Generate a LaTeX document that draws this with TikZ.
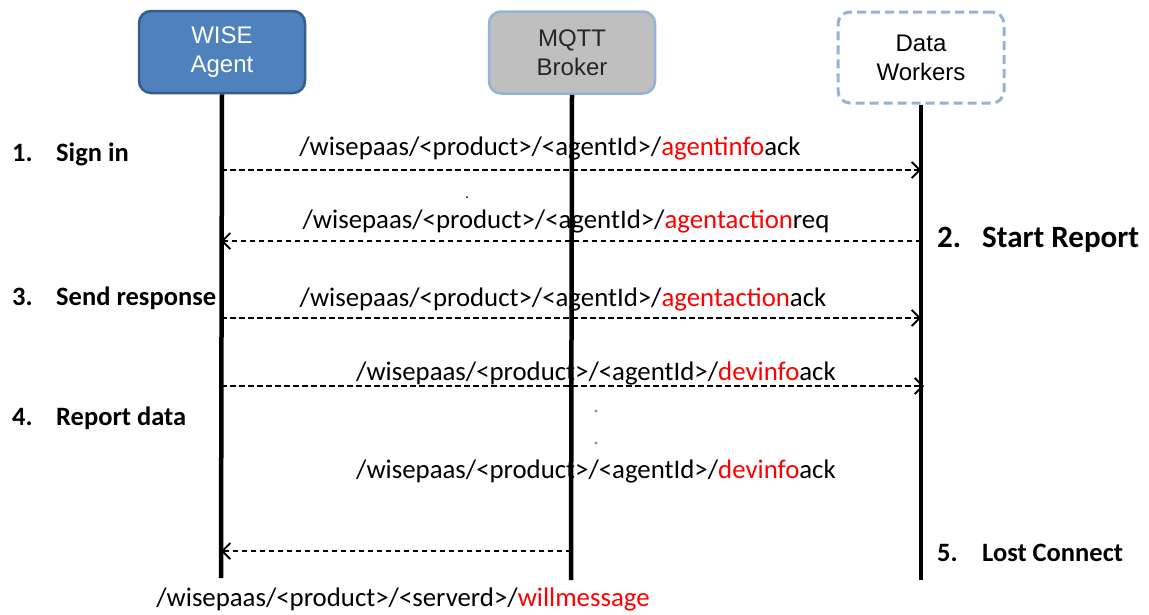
\documentclass[tikz,border=0pt]{standalone}
\usepackage{fontspec}
\setmainfont{Carlito}
\newfontfamily\boxfont{Liberation Sans}
\usetikzlibrary{arrows.meta}
\definecolor{agentfill}{HTML}{4F81BD}
\definecolor{agentline}{HTML}{385D8A}
\definecolor{brokerfill}{HTML}{BFBFBF}
\definecolor{lightblue}{HTML}{95B3D7}
\definecolor{topicred}{HTML}{FF0000}
\tikzset{
  actor/.style={rounded corners=12pt, minimum width=166pt, minimum height=82pt, align=center,
    font=\boxfont\fontsize{24}{29}\selectfont, inner sep=0pt},
  lifeline/.style={line width=4.5pt, black},
  msg/.style={dashed, dash pattern=on 5.5pt off 3.5pt, line width=1.8pt, -{Straight Barb[length=8pt,width=16pt,line width=1.8pt]}},
  topic/.style={font=\fontsize{26.8}{30}\selectfont, inner sep=0pt, anchor=base},
  steplabel/.style={font=\bfseries\fontsize{26.5}{30}\selectfont, inner sep=0pt, anchor=base west},
  biglabel/.style={font=\bfseries\fontsize{31}{34}\selectfont, inner sep=0pt, anchor=base west},
}
\newcommand{\rt}[1]{\textcolor{topicred}{#1}}
\begin{document}
\begin{tikzpicture}[x=1pt,y=-1pt]
\useasboundingbox (0,0) rectangle (1149,614);
% actors
\node[actor, fill=agentfill, draw=agentline, line width=2.5pt, text=white] (agent) at (222,52) {WISE\\Agent};
\node[actor, fill=brokerfill, draw=lightblue, line width=2.5pt, text=black!85] (broker) at (572,52.5) {MQTT\\Broker};
\node[actor, minimum height=91pt, fill=white, draw=lightblue, line width=3pt, dash pattern=on 9pt off 5pt, text=black] (workers) at (921,57.5) {Data\\Workers};
% lifeline ends
\coordinate (agentEnd) at (221,578);
\coordinate (brokerEnd) at (571,580);
\coordinate (workersEnd) at (921,580);
\draw[lifeline] (agent.south) -- (agentEnd);
\draw[lifeline] (broker.south) -- (brokerEnd);
\draw[lifeline] (workers.south) -- (workersEnd);
% message points
\coordinate (a1) at (221,170); \coordinate (w1) at (921,170);
\coordinate (a2) at (221,241); \coordinate (w2) at (921,241);
\coordinate (a3) at (221,318); \coordinate (w3) at (921,318);
\coordinate (a4) at (221,386); \coordinate (w4) at (924,386);
\coordinate (a5) at (221,551); \coordinate (b5) at (571,551);
\draw[msg] (a1) -- (w1);
\draw[msg] (w2) -- (a2);
\draw[msg] (a3) -- (w3);
\draw[msg] (a4) -- (w4);
\draw[msg] (b5) -- (a5);
% topic labels
\node[topic] (t1) at (550,155) {/wisepaas/<product>/<agentId>/\rt{agentinfo}ack};
\node[topic] (t2) at (566,228) {/wisepaas/<product>/<agentId>/\rt{agentaction}req};
\node[topic] (t3) at (563,306) {/wisepaas/<product>/<agentId>/\rt{agentaction}ack};
\node[topic] (t4) at (596,380) {/wisepaas/<product>/<agentId>/\rt{devinfo}ack};
\node[topic] (t5) at (596,478) {/wisepaas/<product>/<agentId>/\rt{devinfo}ack};
\node[topic] (t6) at (403,606) {/wisepaas/<product>/<serverd>/\rt{willmessage}};
% dots
\fill[black!45] (596,411) circle (1.6pt);
\fill[black!45] (596,443) circle (1.6pt);
\fill[black] (467,197) circle (1pt);
% step labels
\node[steplabel] (n1) at (12,161) {1.};
\node[steplabel] (s1) at (56,161) {Sign in};
\node[steplabel] (n3) at (12,305) {3.};
\node[steplabel] (s3) at (56,305) {Send response};
\node[steplabel] (n4) at (12,425) {4.};
\node[steplabel] (s4) at (56,425) {Report data};
\node[biglabel] (n2) at (937,247) {2.};
\node[biglabel] (s2) at (982,247) {Start Report};
\node[steplabel] (n5) at (937,561) {5.};
\node[steplabel] (s5) at (982,561) {Lost Connect};
\end{tikzpicture}
\end{document}
